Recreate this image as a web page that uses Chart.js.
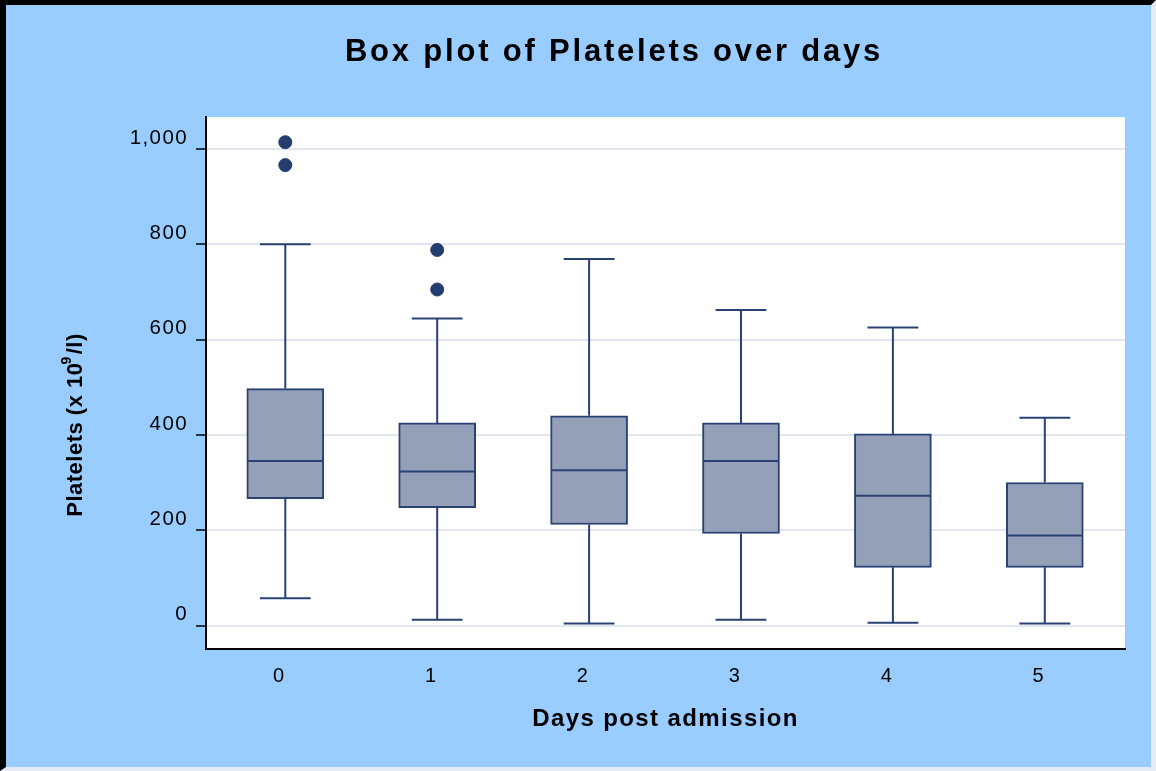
<!DOCTYPE html>
<html>
<head>
<meta charset="utf-8">
<script src="https://cdn.jsdelivr.net/npm/chart.js@4"></script>
<style>
  html, body { margin: 0; padding: 0; background: #fff; }
  #frame {
    position: absolute; left: 0; top: 0;
    width: 1156px; height: 771px; box-sizing: border-box;
    background: #99ccff;
    border-left: 6px solid #000; border-top: 5px solid #000;
    border-right: 5px solid #e6eaf5; border-bottom: 4px solid #e6eaf5;
  }
  #boxChart { display: block; }
</style>
</head>
<body>
<div id="frame"><canvas id="boxChart" width="1145" height="762"></canvas></div>
<script>
// data
const DAYS = ["0", "1", "2", "3", "4", "5"]
const WHISKER_LOW = [57, 12, 4, 12, 6, 4]
const Q1 = [266, 247, 212, 193, 122, 122]
const MEDIAN = [345, 323, 326, 345, 272, 189]
const Q3 = [497, 425, 440, 425, 402, 300]
const WHISKER_HIGH = [800, 644, 769, 662, 625, 436]
const OUTLIER_DAY = [0, 0, 1, 1]
const OUTLIER_VALUE = [1014, 966, 788, 705]
const Y_TICKS = [0, 200, 400, 600, 800, 1000]

const TITLE = "Box plot of Platelets over days"
const X_TITLE = "Days post admission"

const LINE = "#2a4173"
const FONT = '"Liberation Sans", Arial, Helvetica, sans-serif'

Chart.defaults.font.family = FONT
Chart.defaults.color = "#000"

// whiskers, medians, white plot area and the custom titles
const boxPlot = {
  id: "boxPlot",
  beforeDraw(chart) {
    const { ctx, chartArea: a } = chart
    ctx.save()
    ctx.fillStyle = "#fff"
    ctx.fillRect(a.left, a.top, a.right - a.left, a.bottom - a.top)
    ctx.restore()
    ctx.letterSpacing = "1.4px"
  },
  afterDatasetsDraw(chart) {
    const { ctx } = chart
    const y = chart.scales.y
    const bars = chart.getDatasetMeta(0).data
    ctx.save()
    ctx.strokeStyle = LINE
    ctx.lineWidth = 2
    bars.forEach((bar, i) => {
      const x = bar.x
      const half = bar.width / 2 - 1
      const cap = bar.width * 0.33
      const hi = y.getPixelForValue(WHISKER_HIGH[i])
      const lo = y.getPixelForValue(WHISKER_LOW[i])
      const med = y.getPixelForValue(MEDIAN[i])
      ctx.beginPath()
      ctx.moveTo(x, y.getPixelForValue(Q3[i]))
      ctx.lineTo(x, hi)
      ctx.moveTo(x - cap, hi)
      ctx.lineTo(x + cap, hi)
      ctx.moveTo(x, y.getPixelForValue(Q1[i]))
      ctx.lineTo(x, lo)
      ctx.moveTo(x - cap, lo)
      ctx.lineTo(x + cap, lo)
      ctx.moveTo(x - half, med)
      ctx.lineTo(x + half, med)
      ctx.stroke()
    })
    ctx.restore()
  },
  afterDraw(chart) {
    const { ctx } = chart
    ctx.save()
    ctx.fillStyle = "#000"
    // main title
    ctx.font = "bold 31px " + FONT
    ctx.letterSpacing = "2.8px"
    ctx.textAlign = "center"
    ctx.textBaseline = "alphabetic"
    ctx.fillText(TITLE, 608, 55.5)

    // y title with superscript
    ctx.letterSpacing = "0.5px"
    ctx.translate(76, 420)
    ctx.rotate(-Math.PI / 2)
    ctx.textAlign = "left"
    const big = "bold 22px " + FONT
    const small = "bold 14px " + FONT
    const p1 = "Platelets (x 10", p2 = "9", p3 = "/l)"
    ctx.font = big
    const w1 = ctx.measureText(p1).width
    const w3 = ctx.measureText(p3).width
    ctx.font = small
    const w2 = ctx.measureText(p2).width
    let x0 = -(w1 + w2 + w3) / 2
    ctx.font = big
    ctx.fillText(p1, x0, 0)
    ctx.font = small
    ctx.fillText(p2, x0 + w1 - 2, -11)
    ctx.font = big
    ctx.fillText(p3, x0 + w1 + w2, 0)
    ctx.restore()
  },
}

const boxData = DAYS.map((d, i) => ({ x: i, y: [Q1[i], Q3[i]] }))
const outlierData = OUTLIER_DAY.map((d, i) => ({ x: d, y: OUTLIER_VALUE[i] }))

const config = {
  type: "bar",
  data: {
    datasets: [
      {
        type: "bar",
        data: boxData,
        backgroundColor: "#94a0b8",
        borderColor: LINE,
        borderWidth: 2,
        borderSkipped: false,
        barThickness: 77,
      },
      {
        type: "scatter",
        data: outlierData,
        pointRadius: 6.5,
        pointBackgroundColor: "#233d6f",
        pointBorderColor: "#233d6f",
        pointBorderWidth: 1,
      },
    ],
  },
  options: {
    responsive: false,
    animation: false,
    layout: { padding: { left: 0, right: 26, top: 112, bottom: 0 } },
    plugins: {
      legend: { display: false },
      title: { display: false },
      tooltip: { enabled: false },
    },
    scales: {
      x: {
        type: "linear",
        offset: false,
        min: -0.522,
        max: 5.528,
        afterBuildTicks: (scale) => {
          scale.ticks = DAYS.map((d, i) => ({ value: i }))
        },
        afterFit: (scale) => {
          scale.height = 118
        },
        ticks: {
          autoSkip: false,
          maxRotation: 0,
          padding: 15,
          labelOffset: -6,
          font: { size: 20 },
          color: "#000",
          callback: (value) => DAYS[value],
        },
        grid: { display: false, drawTicks: false },
        border: { display: true, color: "#000", width: 2 },
        title: {
          display: true,
          text: X_TITLE,
          font: { size: 24, weight: "bold" },
          color: "#000",
          padding: { top: 0, bottom: 33 },
        },
      },
      y: {
        min: -49.3,
        max: 1066.9,
        afterBuildTicks: (scale) => {
          scale.ticks = Y_TICKS.map((v) => ({ value: v }))
        },
        afterFit: (scale) => {
          scale.width = 200
        },
        ticks: {
          padding: 8,
          labelOffset: -11,
          font: { size: 20.5 },
          color: "#000",
          callback: (value) => value.toLocaleString("en-US"),
        },
        grid: {
          color: "#e2e6f1",
          lineWidth: 2,
          tickColor: "#000",
          tickLength: 10,
          tickWidth: 1.5,
        },
        border: { display: true, color: "#000", width: 2 },
      },
    },
  },
  plugins: [boxPlot],
}

const myChart = new Chart(document.getElementById("boxChart"), config)
</script>
</body>
</html>
